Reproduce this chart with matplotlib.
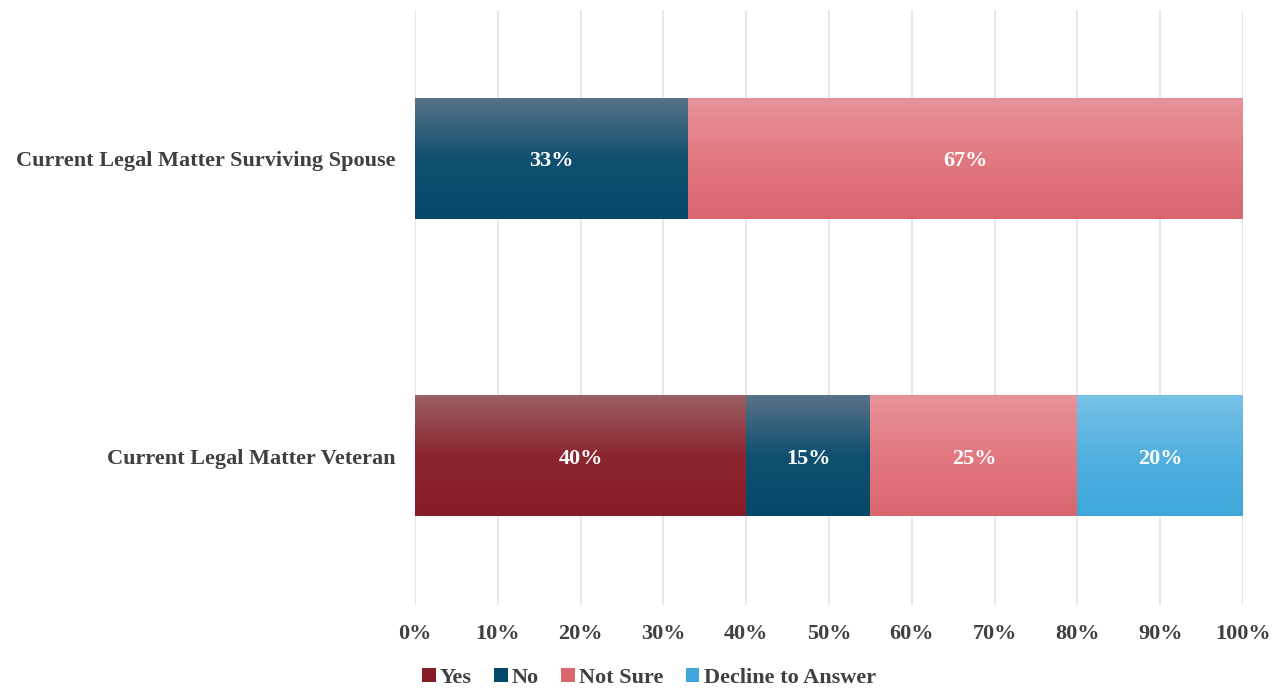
import numpy as np
import matplotlib.pyplot as plt
from matplotlib.colors import LinearSegmentedColormap
from matplotlib.patches import Patch

categories = ['Current Legal Matter Veteran', 'Current Legal Matter Surviving Spouse']
series = ['Yes', 'No', 'Not Sure', 'Decline to Answer']
values = {
    'Yes': [40, 0],
    'No': [15, 33],
    'Not Sure': [25, 67],
    'Decline to Answer': [20, 0],
}
# (top, middle, bottom) colours of each gradient
grad_colors = {
    'Yes': ('#9c6064', '#8b2630', '#861c26'),
    'No': ('#587286', '#0f5070', '#05496a'),
    'Not Sure': ('#e8939a', '#e27880', '#d9666e'),
    'Decline to Answer': ('#78c2e8', '#52b0df', '#3fa7db'),
}
xticks = np.arange(0, 101, 10)

plt.rcParams['font.family'] = ['Liberation Serif', 'DejaVu Serif']
plt.rcParams['font.weight'] = 'bold'

fig = plt.figure(figsize=(12.73, 6.89), dpi=100)
ax = fig.add_axes([415/1273, 84/689, 828/1273, 595/689])

bar_h = 0.405
grad = np.linspace(0, 1, 256).reshape(-1, 1)
for i, cat in enumerate(categories):
    left = 0
    for s in series:
        v = values[s][i]
        if v <= 0:
            continue
        top, mid, bot = grad_colors[s]
        cmap = LinearSegmentedColormap.from_list(s, [(0, bot), (0.5, mid), (1, top)])
        ax.imshow(grad, cmap=cmap, aspect='auto', origin='lower',
                  extent=[left, left + v, i - bar_h/2, i + bar_h/2], zorder=2)
        ax.text(left + v/2, i - 0.008, f'{v}%', ha='center', va='center',
                color='white', fontsize=16, fontweight='bold', zorder=3)
        left += v

ax.set_xlim(0, 100)
ax.set_ylim(-0.5, 1.5)
ax.set_xticks(xticks)
ax.set_xticklabels([f'{t}%' for t in xticks])
ax.set_yticks(range(len(categories)))
ax.set_yticklabels(categories)
ax.tick_params(axis='both', length=0, labelsize=16, labelcolor='#404040')
ax.tick_params(axis='x', pad=14)
ax.tick_params(axis='y', pad=14)
ax.grid(axis='x', color='#e3e3e3', linewidth=1.2, zorder=0)
ax.set_axisbelow(True)
for sp in ax.spines.values():
    sp.set_visible(False)

handles = [Patch(facecolor=grad_colors[s][2], label=s) for s in series]
fig.legend(handles=handles, loc='center', bbox_to_anchor=(649/1273, 1 - 678/689),
           ncol=4, frameon=False, fontsize=16, handlelength=0.6, handleheight=0.6,
           handletextpad=0.2, columnspacing=1.0, labelcolor='#404040')

fig.savefig('out.png', dpi=100)
